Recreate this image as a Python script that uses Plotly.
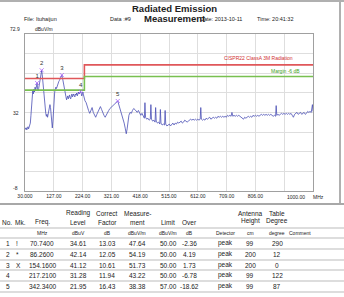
import plotly.graph_objects as go

# ---------------- data ----------------
trace_freq = [30, 32, 34, 36, 38, 40, 42, 44, 46, 48, 50, 52, 54, 56, 58, 60, 62, 64, 66, 68, 70.74, 72, 74, 76, 78, 80, 82, 84, 86.26, 88, 90, 92, 94, 96, 98, 100, 102, 104, 106, 108, 110, 112, 114, 116, 118, 120, 122, 124, 126, 128, 130, 132, 134, 136, 138, 140, 142, 144, 146, 148, 150, 152, 154.16, 156, 158, 160, 162, 164, 166, 168, 170, 172, 174, 176, 178, 180, 182, 184, 186, 188, 190, 192, 194, 196, 198, 200, 202, 204, 206, 208, 210, 212, 214, 216, 217.21, 219, 221, 223, 225, 227, 229, 232, 236, 240, 244, 248, 252, 256, 260, 264, 268, 272, 276, 280, 284, 288, 292, 296, 300, 304, 308, 312, 316, 320, 324, 328, 332, 336, 340, 342.34, 345, 348, 352, 356, 360, 364, 368, 371, 374, 377, 380, 384, 388, 392, 396, 400, 404, 408, 412, 416, 420, 424, 428, 432, 434, 436, 440, 444, 448, 452, 454, 456, 460, 464, 468, 470, 472, 476, 480, 484, 486, 488, 492, 496, 500, 502, 504, 508, 512, 516, 520, 524, 528, 532, 536, 540, 544, 548, 552, 556, 560, 564, 568, 572, 576, 580, 584, 588, 592, 596, 600, 604, 608, 612, 616, 620, 622, 624, 628, 632, 636, 640, 644, 648, 652, 656, 660, 664, 668, 672, 676, 680, 684, 688, 692, 696, 700, 704, 708, 712, 716, 720, 724, 727, 730, 734, 738, 742, 746, 750, 754, 758, 762, 766, 770, 774, 778, 782, 786, 790, 794, 798, 802, 806, 810, 814, 818, 822, 826, 830, 834, 838, 842, 846, 850, 854, 858, 862, 866, 870, 874, 876, 878, 882, 886, 890, 894, 898, 902, 906, 910, 914, 918, 922, 926, 930, 934, 938, 942, 946, 950, 954, 958, 962, 966, 970, 974, 978, 982, 986, 990, 994, 998, 1000]
trace_level = [24.5, 23.8, 24.6, 23.5, 24.2, 25.1, 24.0, 24.8, 25.5, 27, 31, 37, 41, 43.5, 42, 44.5, 43, 45.5, 44, 46, 47.64, 45, 43.5, 44.8, 47, 49.5, 51, 52.5, 54.19, 52, 48, 44, 40, 37, 34, 32, 30.5, 31.5, 30, 32, 33.5, 35, 36.5, 35, 31, 27, 24.5, 28, 35, 40, 43, 44.5, 45.5, 44.8, 46, 47, 47.8, 48.5, 49, 50, 50.8, 51.2, 51.73, 50.5, 48.5, 46, 44, 42.5, 41, 40.5, 39, 40, 41, 39.5, 40.5, 41.5, 40, 39.5, 41, 42, 40.5, 41.5, 42, 41, 40.5, 42, 41.5, 42.5, 41, 42, 43, 42, 42.5, 43, 43.22, 42.5, 41, 42, 43, 41.5, 40, 38.5, 37.5, 35, 33.5, 32, 33.8, 35, 32.5, 31, 30, 31.5, 33, 34.5, 35.5, 34, 32, 31, 30, 31.5, 32.5, 33.5, 34.5, 35, 36, 36.5, 37, 37.5, 38, 38.38, 37, 35, 33, 31.5, 30, 27, 24, 21.5, 24, 28, 31, 32.5, 32, 33.5, 34.5, 34, 33, 32.5, 33.5, 32, 31, 32, 30.5, 29.5, 37.5, 30, 29, 29.5, 28.5, 29, 36.5, 29, 28, 28.5, 27.5, 35, 28, 27, 27.5, 26.5, 34, 27, 26, 26.5, 26, 33.5, 26.5, 25.5, 26, 26.5, 25.5, 26.5, 27, 26, 27, 26.5, 27.5, 27, 27.5, 28, 27, 27.5, 28.5, 28, 27.5, 28, 28.5, 29, 28.5, 29, 28.5, 29, 28.5, 29, 28.5, 29, 35, 29, 28.5, 29, 28.5, 29.5, 29, 29.5, 30, 29, 29.5, 30, 29.5, 30, 29.5, 30.5, 30, 30.5, 30, 30.5, 30, 30.5, 30, 31, 30.5, 31, 30.5, 32.5, 30.5, 31, 30.5, 31, 30.5, 31, 30.5, 30, 29.5, 29, 30, 29.5, 30, 30.5, 30, 30.5, 30, 31, 30.5, 31, 30.5, 31, 30.5, 31, 31.5, 31, 31.5, 31, 31.5, 31, 31.5, 31, 31.5, 31, 30.5, 31, 30.5, 36, 31, 31.5, 31, 31.5, 32, 31.5, 32, 31.5, 32, 31.5, 32, 31.5, 32, 31, 30, 31.5, 32, 32.5, 31.5, 32, 32.5, 31.5, 32, 32.5, 31.5, 32, 33, 32.5, 33, 32.5, 36.5, 33]

limit_freq = [30, 230, 230, 1000]
limit_level = [50, 50, 57, 57]
margin_level = [44, 44, 51, 51]

x_tick_vals = [30, 127, 224, 321, 418, 515, 612, 709, 806]
x_tick_text = ["30.000", "127.00", "224.00", "321.00", "418.00", "515.00", "612.00", "709.00", "806.00"]

no_col = ["1", "2", "3", "4", "5"]
mk_col = ["!", "*", "X", "", ""]
freq_col = [70.74, 86.26, 154.16, 217.21, 342.34]
reading_col = [34.61, 42.14, 41.12, 31.28, 21.95]
correct_col = [13.03, 12.05, 10.61, 11.94, 16.43]
measure_col = [47.64, 54.19, 51.73, 43.22, 38.38]
limit_col = [50.00, 50.00, 50.00, 50.00, 57.00]
over_col = [-2.36, 4.19, 1.73, -6.78, -18.62]
detector_col = ["peak", "peak", "peak", "peak", "peak"]
height_col = [99, 200, 200, 99, 99]
degree_col = [290, 12, 0, 122, 87]

# ---------------- layout helpers ----------------
W, H = 344, 297
L, R, T, B = 25, 313, 34, 191
PW, PH = R - L, B - T
FONT = "Liberation Sans, Arial, sans-serif"


def px(x):
    return (x - L) / PW


def py(y):
    return (B - y) / PH


fig = go.Figure()

fig.add_trace(go.Scatter(x=trace_freq, y=trace_level, mode="lines",
                         line=dict(color="#4a4fb5", width=0.8), hoverinfo="skip"))
fig.add_trace(go.Scatter(x=limit_freq, y=limit_level, mode="lines",
                         line=dict(color="#e0575a", width=1.6), hoverinfo="skip"))
fig.add_trace(go.Scatter(x=limit_freq, y=margin_level, mode="lines",
                         line=dict(color="#78c050", width=1.6), hoverinfo="skip"))
fig.add_trace(go.Scatter(x=freq_col, y=measure_col, mode="markers+text",
                         marker=dict(symbol="x-thin-open", size=4,
                                     line=dict(color="#333", width=0.8)),
                         text=no_col, textposition="top center",
                         textfont=dict(size=6, color="#333", family=FONT),
                         hoverinfo="skip"))

anns = []


def txt(x, y, s, size=7, color="#222", anchor="center", bold=False):
    anns.append(dict(x=px(x), y=py(y), xref="paper", yref="paper", text=("<b>%s</b>" % s) if bold else s,
                     showarrow=False, xanchor=anchor, yanchor="middle",
                     font=dict(size=size, color=color, family=FONT)))


# header texts
txt(174, 8, "Radiated Emission", size=9.5, color="#222", bold=True)
txt(175, 18, "Measurement", size=9.5, color="#222", bold=True)
txt(22, 19, "File: Ituhaijun", size=5.5, anchor="left")
txt(108, 19, "Data :#9", size=5.5, anchor="left")
txt(198, 19, "Date: 2013-10-11", size=5.5, anchor="left")
txt(255, 19, "Time: 20:41:32", size=5.5, anchor="left")
txt(22, 29, "72.9", size=5, anchor="right")
txt(33, 29, "dBuV/m", size=5, anchor="left")
txt(21, 113, "32", size=5, anchor="right")
txt(20, 188, "-8", size=5, anchor="right")
txt(307, 197, "1000.00", size=5, anchor="right")
txt(311, 197, "MHz", size=5, anchor="left")
txt(258, 58, "CISPR22 ClassA 3M Radiation", size=5, color="#d03030")
txt(285, 71, "Margin -6 dB", size=5, color="#40a020")

# table header
cols = [11, 15, 42, 78, 107, 137, 168, 189, 225, 250, 277, 300]
TS = 6.5
txt(78, 213, "Reading", size=TS)
txt(107, 213, "Correct", size=TS)
txt(137, 213, "Measure-", size=TS)
txt(250, 213, "Antenna", size=TS)
txt(277, 213, "Table", size=TS)
txt(7, 222, "No.", size=TS)
txt(20, 222, "Mk.", size=TS)
txt(42, 222, "Freq.", size=TS)
txt(78, 222, "Level", size=TS)
txt(107, 222, "Factor", size=TS)
txt(137, 222, "ment", size=TS)
txt(168, 222, "Limit", size=TS)
txt(189, 222, "Over", size=TS)
txt(250, 221, "Height", size=TS)
txt(277, 221, "Degree", size=TS)
units = ["MHz", "dBuV", "dB", "dBuV/m", "dBuV/m", "dB", "Detector", "cm", "degree", "Comment"]
for cx, u in zip(cols[2:], units):
    txt(cx, 233, u, size=5)

row_y = [243, 254, 265, 275, 286]
for i, yy in enumerate(row_y):
    txt(12, yy, no_col[i], size=TS, anchor="right")
    txt(14, yy, mk_col[i], size=TS, anchor="left")
    vals = ["%.4f" % freq_col[i], "%.2f" % reading_col[i], "%.2f" % correct_col[i],
            "%.2f" % measure_col[i], "%.2f" % limit_col[i], "%.2f" % over_col[i],
            detector_col[i], str(height_col[i]), str(degree_col[i])]
    for cx, v in zip(cols[2:], vals):
        txt(cx, yy, v, size=TS)

shapes = []


def hline(y, x0=0, x1=W, color="#bbbbbb", width=1):
    shapes.append(dict(type="line", xref="paper", yref="paper", x0=px(x0), x1=px(x1),
                       y0=py(y), y1=py(y), line=dict(color=color, width=width)))


hline(1, color="#b0b0b0", width=2)
shapes.append(dict(type="line", xref="paper", yref="paper", x0=px(340), x1=px(340),
                   y0=py(0), y1=py(204), line=dict(color="#b0b0b0", width=2)))
hline(204, color="#a8a8a8", width=2)
for yy in [228, 238, 249, 260, 270, 281, 292]:
    hline(yy)

y_ticks = [-8 + k * 80.9 / 8 for k in range(9)]
fig.update_layout(
    width=W, height=H,
    margin=dict(l=L, r=W - R, t=T, b=H - B),
    paper_bgcolor="white", plot_bgcolor="white",
    showlegend=False,
    annotations=anns, shapes=shapes,
    xaxis=dict(range=[30, 1000], tickvals=x_tick_vals + [903, 1000], ticktext=x_tick_text + ["", ""],
               showgrid=True, gridcolor="#dedede", gridwidth=1, zeroline=False,
               showline=True, linecolor="#a0a0a0", linewidth=1, mirror=True,
               ticks="", tickfont=dict(size=5, family=FONT, color="#222")),
    yaxis=dict(range=[-8, 72.9], tickvals=y_ticks, ticktext=[""] * 9,
               showgrid=True, gridcolor="#dedede", gridwidth=1, zeroline=False,
               showline=True, linecolor="#a0a0a0", linewidth=1, mirror=True,
               ticks=""),
)

fig.write_html("out.html")
